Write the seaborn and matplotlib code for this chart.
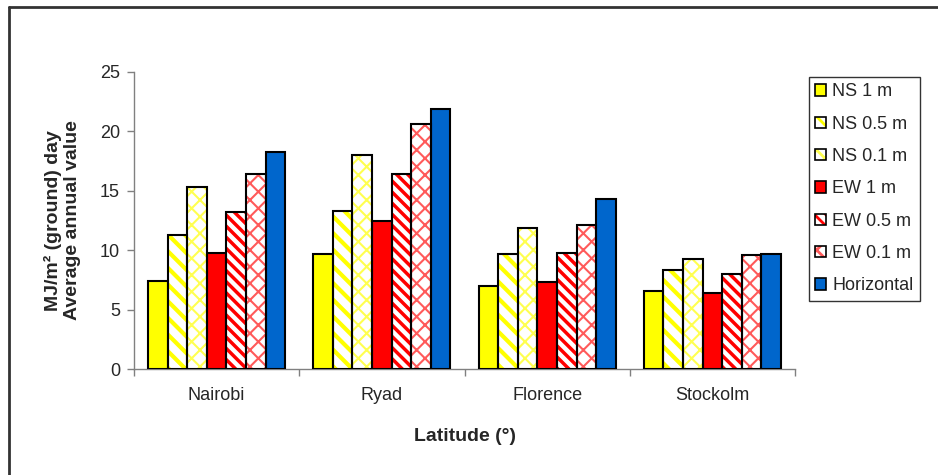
import matplotlib
matplotlib.use("Agg")
import matplotlib.pyplot as plt
from matplotlib.patches import Patch, Rectangle
from matplotlib.legend_handler import HandlerTuple
from matplotlib.lines import Line2D
import seaborn as sns
import pandas as pd

# Data
cities = ["Nairobi", "Ryad", "Florence", "Stockolm"]
series = ["NS 1 m", "NS 0.5 m", "NS 0.1 m", "EW 1 m", "EW 0.5 m", "EW 0.1 m", "Horizontal"]
ns_1 = [7.4, 9.7, 7.0, 6.6]
ns_05 = [11.3, 13.3, 9.7, 8.3]
ns_01 = [15.3, 18.0, 11.9, 9.3]
ew_1 = [9.8, 12.5, 7.3, 6.4]
ew_05 = [13.2, 16.4, 9.8, 8.0]
ew_01 = [16.4, 20.6, 12.1, 9.6]
horizontal = [18.3, 21.9, 14.3, 9.7]
values = [ns_1, ns_05, ns_01, ew_1, ew_05, ew_01, horizontal]

# Styles: (fill colour, hatch, hatch colour, hatch line width)
styles = [
    ("#FFFF00", "", "#FFFF00", 1.0),
    ("white", "\\\\", "#FFFF00", 3.0),
    ("white", "xx", "#FFFF50", 1.5),
    ("#FF0000", "", "#FF0000", 1.0),
    ("white", "\\\\\\", "#FF0000", 2.5),
    ("white", "xx", "#FF5A5A", 1.5),
    ("#0066CC", "", "#0066CC", 1.0),
]

rows = []
for s, vals in zip(series, values):
    for c, v in zip(cities, vals):
        rows.append({"city": c, "series": s, "value": v})
df = pd.DataFrame(rows)

sns.set_theme(style="white")
plt.rcParams["font.family"] = ["Liberation Sans", "DejaVu Sans"]
plt.rcParams["hatch.linewidth"] = 2.0


def style_patch(p, fc, hatch, hc, hlw):
    p.set_facecolor(fc)
    p.set_hatch(hatch)
    p.set_edgecolor(hc)
    p.set_linewidth(0)
    if hasattr(p, "set_hatch_linewidth"):
        p.set_hatch_linewidth(hlw)


fig = plt.figure(figsize=(9.38, 4.75), dpi=100)
ax = fig.add_axes([134 / 938, 1 - 369 / 475, (795 - 134) / 938, (369 - 72) / 475])

sns.barplot(data=df, x="city", y="value", hue="series", hue_order=series,
            order=cities, palette=[st[0] for st in styles], width=0.83,
            gap=0, ax=ax, legend=False, saturation=1, dodge=True)

for cont, st in zip(ax.containers, styles):
    for p in cont.patches:
        style_patch(p, *st)
        ax.add_patch(Rectangle(p.get_xy(), p.get_width(), p.get_height(),
                               fill=False, edgecolor="black", linewidth=1.5, zorder=3))

ax.set_ylim(0, 25)
ax.set_xlim(-0.5, 3.5)
ax.set_yticks(range(0, 26, 5))
ax.set_xticks([-0.5, 0.5, 1.5, 2.5, 3.5], minor=False)
ax.set_xticklabels([])
ax.set_xticks(range(4), minor=True)
ax.set_xticklabels(cities, minor=True)
ax.tick_params(axis="x", which="minor", length=0, labelsize=13, pad=13)
ax.tick_params(axis="x", which="major", length=5, width=1, color="#808080", direction="out")
ax.tick_params(axis="y", length=5, width=1, color="#808080", direction="out", labelsize=13, pad=5)
ax.tick_params(bottom=True, left=True)
for side in ["top", "right"]:
    ax.spines[side].set_visible(False)
for side in ["left", "bottom"]:
    ax.spines[side].set_color("#808080")
    ax.spines[side].set_linewidth(1)

ax.set_xlabel("Latitude (°)", fontsize=14, fontweight="bold", labelpad=17)
ax.set_ylabel("MJ/m² (ground) day\nAverage annual value", fontsize=14,
              fontweight="bold", labelpad=14, linespacing=1.15)

# Legend with coloured hatching and black outlines
handles = []
for st in styles:
    base = Patch()
    style_patch(base, *st)
    outline = Patch(facecolor="none", edgecolor="black", linewidth=1.2)
    handles.append((base, outline))
leg = fig.legend(handles, series, handler_map={tuple: HandlerTuple(ndivide=1, pad=0)},
                 loc="upper left", bbox_to_anchor=(809 / 938, 1 - 77 / 475),
                 frameon=True, fancybox=False, edgecolor="black", fontsize=13,
                 handlelength=0.6, handleheight=0.6, handletextpad=0.35,
                 labelspacing=0.85, borderpad=0.35, borderaxespad=0)
leg.get_frame().set_linewidth(1)

# Outer frame (top and left edges)
fig.add_artist(Line2D([8.5 / 938, 8.5 / 938], [0, 1 - 6.5 / 475], color="#333333",
                      linewidth=2, transform=fig.transFigure))
fig.add_artist(Line2D([8.5 / 938, 1], [1 - 6.5 / 475, 1 - 6.5 / 475], color="#333333",
                      linewidth=2, transform=fig.transFigure))

fig.savefig("out.png", dpi=100)
